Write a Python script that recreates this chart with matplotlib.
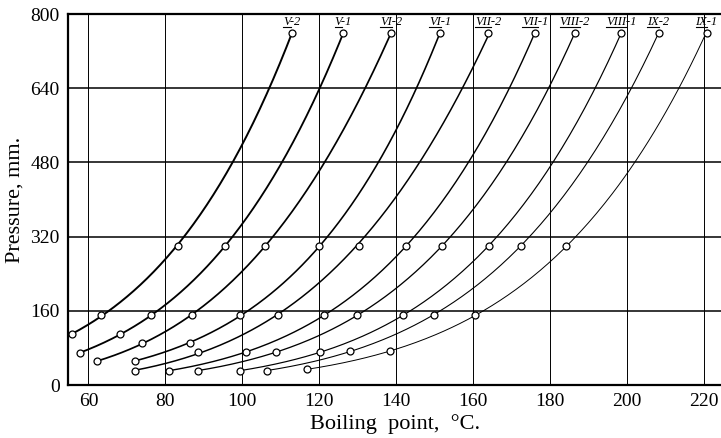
import numpy as np
import matplotlib
matplotlib.use('Agg')
import matplotlib.pyplot as plt

# boiling point (deg C) vs pressure (mm) for each fraction
labels = ["V-2", "V-1", "VI-2", "VI-1", "VII-2", "VII-1", "VIII-2", "VIII-1", "IX-2", "IX-1"]

temps = [
    [55.7, 63.2, 83.2, 112.9],
    [57.9, 68.3, 76.2, 95.6, 126.3],
    [62.2, 74.0, 87.0, 105.9, 138.7],
    [72.0, 86.5, 99.5, 120.0, 151.5],
    [72.0, 88.6, 109.2, 130.3, 163.9],
    [81.0, 100.9, 121.2, 142.6, 176.1],
    [88.4, 108.8, 129.9, 151.9, 186.5],
    [99.5, 120.2, 141.8, 164.1, 198.5],
    [106.4, 127.9, 149.8, 172.4, 208.2],
    [116.9, 138.5, 160.5, 184.2, 220.7],
]
pressures = [
    [109, 150, 300, 760],
    [70, 109, 150, 300, 760],
    [51, 91, 150, 300, 760],
    [52, 91, 150, 300, 760],
    [31, 71, 150, 300, 760],
    [31, 71, 150, 300, 760],
    [31, 71, 150, 300, 760],
    [31, 71, 150, 300, 760],
    [31, 73, 150, 300, 760],
    [34, 73, 150, 300, 760],
]

x_ticks = [60, 80, 100, 120, 140, 160, 180, 200, 220]
y_ticks = [0, 160, 320, 480, 640, 800]

plt.rcParams['font.family'] = ['Liberation Serif', 'DejaVu Serif']

fig = plt.figure(figsize=(7.21, 4.38), dpi=100)
ax = fig.add_axes([0.0943, 0.121, 0.906, 0.847])
ax.set_xlim(54.7, 224.5)
ax.set_ylim(0, 800)

for x in x_ticks:
    ax.axvline(x, color='black', lw=0.7, zorder=1)
for y in y_ticks[1:-1]:
    ax.axhline(y, color='black', lw=1.1, zorder=1)

widths = np.linspace(1.4, 0.7, len(labels))
name_texts = []
for name, t, p, lw in zip(labels, temps, pressures, widths):
    t = np.asarray(t, float)
    p = np.asarray(p, float)
    # smooth curve: log P fitted against 1/T (Clausius-Clapeyron style)
    inv = 1.0 / (t + 273.15)
    coef = np.polyfit(inv, np.log(p), 2)
    tt = np.linspace(t.min(), t.max(), 200)
    pp = np.exp(np.polyval(coef, 1.0 / (tt + 273.15)))
    ax.plot(tt, pp, color='black', lw=lw, zorder=2)
    ax.plot(t, p, 'o', ms=5, mfc='white', mec='black', mew=0.9, zorder=3)
    txt = ax.text(t[-1], 782, name, ha='center', va='center', fontsize=9,
                  style='italic', zorder=4)
    name_texts.append(txt)

ax.set_xticks(x_ticks)
ax.set_yticks(y_ticks)
ax.tick_params(length=0, labelsize=14, pad=6)
for side in ['left', 'bottom', 'top']:
    ax.spines[side].set_linewidth(1.6)
ax.spines['right'].set_visible(False)

ax.set_xlabel("Boiling  point,  °C.", fontsize=16, labelpad=3)
ax.set_ylabel("Pressure, mm.", fontsize=16, labelpad=4)

# underline the roman numeral part of each curve label
fig.canvas.draw()
renderer = fig.canvas.get_renderer()
inv_tr = ax.transData.inverted()
for txt in name_texts:
    full = txt.get_window_extent(renderer)
    roman = txt.get_text().split('-')[0]
    probe = ax.text(0, 0, roman, fontsize=9, style='italic')
    w = probe.get_window_extent(renderer).width
    probe.remove()
    (x0, y0), (x1, _) = inv_tr.transform([(full.x0, full.y0 + 1), (full.x0 + w, full.y0 + 1)])
    ax.plot([x0, x1], [y0, y0], color='black', lw=0.8, zorder=4, clip_on=False)

fig.savefig("out.png", dpi=100)
